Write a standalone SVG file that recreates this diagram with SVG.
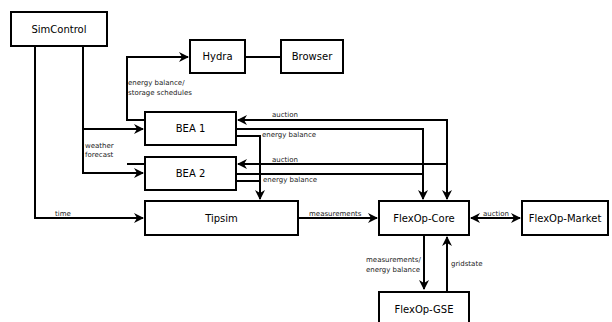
<svg xmlns="http://www.w3.org/2000/svg" width="612" height="322" viewBox="0 0 612 322">
<style>
.box{fill:#fff;stroke:#000;stroke-width:2}
.nl{font-family:"DejaVu Sans",Verdana,sans-serif;font-size:10px;fill:#000;text-anchor:middle}
.el{font-family:"DejaVu Sans",Verdana,sans-serif;font-size:7px;fill:#222}
.c{fill:none;stroke:#000;stroke-width:2}
</style>
<defs>
<marker id="a" viewBox="0 0 10 10" refX="9" refY="5" markerWidth="5" markerHeight="5" orient="auto-start-reverse" markerUnits="strokeWidth">
<path d="M0,0 L10,5 L0,10 L3,5 Z" fill="#000"/>
</marker>
</defs>
<g id="connectors">
<path class="c" d="M35,46 V218 H143" marker-end="url(#a)"/>
<path class="c" d="M83,46 V173 H143" marker-end="url(#a)"/>
<path class="c" d="M83,129 H143" marker-end="url(#a)"/>
<path class="c" d="M145,120 H127 V57 H188" marker-end="url(#a)"/>
<path class="c" d="M145,164 H127"/>
<path class="c" d="M245,57 H281"/>
<path class="c" d="M447,199 V120 H238" marker-start="url(#a)" marker-end="url(#a)"/>
<path class="c" d="M447,164 H238" marker-end="url(#a)"/>
<path class="c" d="M236,129 H423 V199" marker-end="url(#a)"/>
<path class="c" d="M236,174 H423"/>
<path class="c" d="M236,136 H260 V199" marker-end="url(#a)"/>
<path class="c" d="M236,181 H260"/>
<path class="c" d="M298,218 H377" marker-end="url(#a)"/>
<path class="c" d="M471,218 H520" marker-start="url(#a)" marker-end="url(#a)"/>
<path class="c" d="M424,235 V289" marker-end="url(#a)"/>
<path class="c" d="M447,291 V237" marker-end="url(#a)"/>
<text class="el" x="128" y="84.5">energy balance/</text>
<text class="el" x="128" y="94.5">storage schedules</text>
<text class="el" x="272" y="116.5">auction</text>
<text class="el" x="272" y="161.5">auction</text>
<text class="el" x="262" y="136.5">energy balance</text>
<text class="el" x="263" y="181.5">energy balance</text>
<text class="el" x="85" y="147.5">weather</text>
<text class="el" x="85" y="156.5">forecast</text>
<text class="el" x="55" y="215.5">time</text>
<text class="el" x="309" y="216">measurements</text>
<text class="el" x="483" y="216">auction</text>
<text class="el" x="366" y="261.5">measurements/</text>
<text class="el" x="366" y="271.5">energy balance</text>
<text class="el" x="451" y="265.5">gridstate</text>
</g>
<g id="SimControl"><rect class="box" x="11" y="12" width="96" height="34"/><text class="nl" x="59" y="32.5">SimControl</text></g>
<g id="Hydra"><rect class="box" x="190" y="40" width="55" height="33"/><text class="nl" x="217.5" y="60">Hydra</text></g>
<g id="Browser"><rect class="box" x="281" y="40" width="62" height="33"/><text class="nl" x="312" y="60">Browser</text></g>
<g id="BEA1"><rect class="box" x="145" y="112" width="91" height="33"/><text class="nl" x="190.5" y="132">BEA 1</text></g>
<g id="BEA2"><rect class="box" x="145" y="157" width="91" height="33"/><text class="nl" x="190.5" y="177">BEA 2</text></g>
<g id="Tipsim"><rect class="box" x="145" y="201" width="153" height="34"/><text class="nl" x="221.5" y="221.5">Tipsim</text></g>
<g id="FlexOp-Core"><rect class="box" x="379" y="201" width="90" height="34"/><text class="nl" x="424" y="221.5">FlexOp-Core</text></g>
<g id="FlexOp-Market"><rect class="box" x="522" y="201" width="86" height="34"/><text class="nl" x="565" y="221.5">FlexOp-Market</text></g>
<g id="FlexOp-GSE"><rect class="box" x="379" y="292" width="90" height="34"/><text class="nl" x="424" y="313">FlexOp-GSE</text></g>
</svg>
